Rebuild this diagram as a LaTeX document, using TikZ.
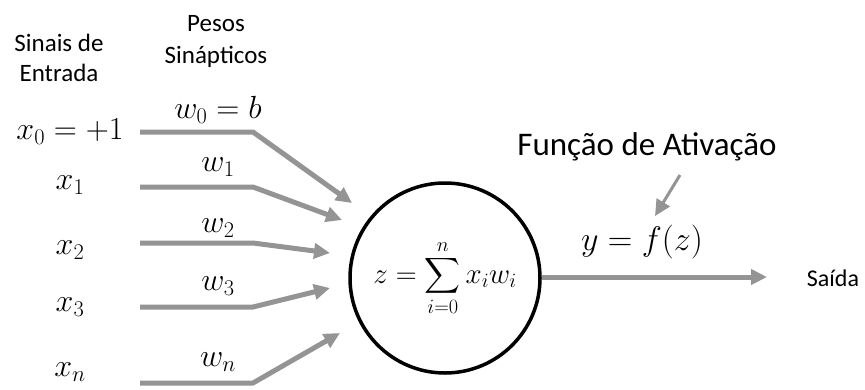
\RequirePackage{fix-cm}
\documentclass[tikz,border=0pt]{standalone}
\usepackage{exscale}
\usepackage[no-math]{fontspec}
\setmainfont{Carlito}
\usetikzlibrary{arrows.meta,positioning,calc}
\tikzset{
  txt/.style={font=\fontsize{25}{30}\selectfont, align=center, inner sep=0pt},
  sig/.style={font=\fontsize{32}{36}\selectfont, inner sep=0pt},
  syn/.style={line width=5pt, draw=black!42,
              -{Triangle[length=16pt,width=15pt,fill=black!42]}},
}

\begin{document}
\begin{tikzpicture}[x=1pt,y=-1pt]
  \useasboundingbox (0,0) rectangle (865,389);
  % titles
  \node[txt] (ent) at (59,58) {Sinais de\\Entrada};
  \node[txt, font=\fontsize{25}{32}\selectfont] (pes) at (216,41) {Pesos\\Sinápticos};
  % neuron
  \node[circle, draw, line width=3.5pt, minimum size=190pt, inner sep=0pt,
        sig, font=\fontsize{29}{36}\selectfont] (neu) at (445,278)
        {$z=\displaystyle\sum_{i=0}^{n} x_i w_i$};
  % inputs and weights
  \foreach \i/\xl/\wl/\xy/\ly/\wy/\tx/\ty in {
      0/{x_0=+1}/{w_0=b}/132/132/110/352/203,
      1/{x_1}/{w_1}/185/187/167/342/220,
      2/{x_2}/{w_2}/250/243/228/330/253,
      3/{x_3}/{w_3}/307/307/286/330/288,
      4/{x_n}/{w_n}/372/383/362/340/333} {
    \node[sig] (x\i) at (70,\xy) {$\xl$};
    \node[sig] (w\i) at (218,\wy) {$\wl$};
    \coordinate (s\i) at (140,\ly);
    \coordinate (k\i) at (253,\ly);
    \coordinate (t\i) at (\tx,\ty);
    \draw[syn] (s\i) -- (k\i) -- (t\i);
  }
  % output
  \coordinate (out) at (767,277);
  \node[txt, font=\fontsize{24}{28}\selectfont] (sai) at (833,278) {Saída};
  \draw[syn] (neu.east |- out) -- (out);
  % activation
  \node[txt, font=\fontsize{33}{36}\selectfont] (fat) at (647,147) {Função de Ativação};
  \node[sig, font=\fontsize{34}{38}\selectfont] (fz) at (642,242) {$y=f(z)$};
  \coordinate (a1) at (680,175);
  \coordinate (a2) at (655,216);
  \draw[syn, line width=3pt] (a1) -- (a2);
\end{tikzpicture}
\end{document}
